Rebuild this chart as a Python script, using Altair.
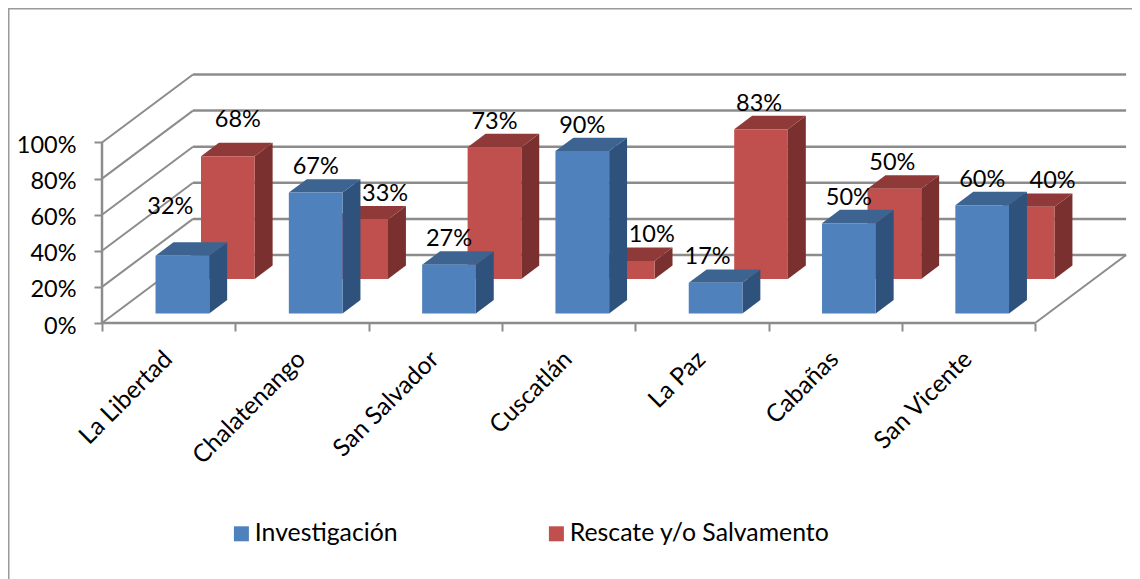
import altair as alt
import pandas as pd

# ---- chart values -------------------------------------------------------
categories = ["La Libertad", "Chalatenango", "San Salvador", "Cuscatlán",
              "La Paz", "Cabañas", "San Vicente"]
investigacion = [32, 67, 27, 90, 17, 50, 60]
rescate = [68, 33, 73, 10, 83, 50, 40]
y_ticks = [0, 20, 40, 60, 80, 100]
series_names = ["Investigación", "Rescate y/o Salvamento"]

# label nudges (px) for data labels that sit away from their bar
inv_nudge_x = [-12, 0, 0, 0, -8, 0, 0]
inv_nudge_y = [23, 0, 0, 0, 0, 0, 0]
res_nudge_x = [10, 24, 0, 24, -2, -2, 25]
res_nudge_y = [11, 0, 0, 0, 0, 0, 0]

# ---- layout -------------------------------------------------------------
W, H = 1124, 571
PX_X = 133.3        # px per category
PX_Y = 1.805        # px per percent
X0, Y0 = 102 - 8, 323 - 8  # origin of the axes inside the plot
DEPTH_X, DEPTH_Y = 91 / PX_X, 68 / PX_Y  # oblique projection of the floor depth
FONT = "Lato"
GRID = "#8c8c8c"
n = len(categories)

x_scale = alt.Scale(domain=[-X0 / PX_X, (W - X0) / PX_X], range=[0, W], nice=False, zero=False)
y_scale = alt.Scale(domain=[(Y0 - H) / PX_Y, Y0 / PX_Y], range=[H, 0], nice=False, zero=False)

# every layer shares the same real axes, pushed into the plot by a negative offset
y_axis = alt.Axis(
    values=y_ticks, labelExpr="datum.value + '%'",
    orient="left", offset=-X0, domain=False, grid=False, title=None,
    tickColor=GRID, tickWidth=2, tickSize=8, labelPadding=18, labelOffset=3,
    labelFont=FONT, labelFontSize=23.5, labelColor="black")
x_axis = alt.Axis(
    values=list(range(n + 1)), orient="bottom", offset=-(H - Y0), domain=False, grid=False,
    labels=False, title=None, tickColor=GRID, tickWidth=2, tickSize=8)


def X(field):
    return alt.X(field, type="quantitative", scale=x_scale, axis=x_axis)


def Y(field):
    return alt.Y(field, type="quantitative", scale=y_scale, axis=y_axis, stack=None)


def proj(u, depth, pct):
    return u + depth * DEPTH_X, pct + depth * DEPTH_Y


BAR_W = 53.7 / PX_X
BAR_D = 0.197
SERIES = [
    dict(vals=investigacion, u0=0.306, d0=0.14, front="#4F81BD", side="#2F527C", top="#3D6491",
         nx=inv_nudge_x, ny=inv_nudge_y),
    dict(vals=rescate, u0=0.301, d0=0.647, front="#C0504D", side="#7A302E", top="#8F3A38",
         nx=res_nudge_x, ny=res_nudge_y),
]

# ---- frame and walls ----------------------------------------------------
thin, thick = [], []


def add_line(rows, name, a, b):
    rows.append({"id": name, "o": 0, "x": a[0], "y": a[1]})
    rows.append({"id": name, "o": 1, "x": b[0], "y": b[1]})


for t in y_ticks:
    add_line(thin, f"side{t}", proj(0, 0, t), proj(0, 1, t))
    add_line(thick, f"back{t}", proj(0, 1, t), proj(n, 1, t))
add_line(thick, "axisY", proj(0, 0, 0), proj(0, 0, 100))
add_line(thin, "floorRight", proj(n, 0, 0), proj(n, 1, 0))
add_line(thick, "axisX", proj(0, 0, 0), proj(n, 0, 0))


def line_layer(rows, color, width):
    return alt.Chart(pd.DataFrame(rows)).mark_line(color=color, strokeWidth=width, clip=False).encode(
        x=X("x"), y=Y("y"), detail="id:N", order="o:Q")


frame_rows = []
add_line(frame_rows, "l", (-X0 / PX_X, (Y0 - H) / PX_Y), (-X0 / PX_X, Y0 / PX_Y))
add_line(frame_rows, "t", (-X0 / PX_X, Y0 / PX_Y), ((W - X0) / PX_X, Y0 / PX_Y))

# ---- bars ---------------------------------------------------------------
layers = [line_layer(frame_rows, "#9a9a9a", 3), line_layer(thin, GRID, 2), line_layer(thick, GRID, 2.5)]
for s, name in zip(SERIES[::-1], series_names[::-1]):
    side, top, front, labels = [], [], [], []
    for i, v in enumerate(s["vals"]):
        u0, u1 = i + s["u0"], i + s["u0"] + BAR_W
        d0, d1 = s["d0"], s["d0"] + BAR_D
        for d in (d0, d1):
            xa, ya = proj(u1, d, 0)
            _, yb = proj(u1, d, v)
            side.append({"k": i, "x": xa, "y": ya, "y2": yb})
        # top face: parallelogram as an area with lower and upper edges
        xf0, yf = proj(u0, d0, v)
        xf1, _ = proj(u1, d0, v)
        xb0, yb2 = proj(u0, d1, v)
        xb1, _ = proj(u1, d1, v)
        top += [
            {"k": i, "x": xf0, "y": yf, "y2": yf},
            {"k": i, "x": xb0, "y": yf, "y2": yb2},
            {"k": i, "x": xf1, "y": yf, "y2": yb2},
            {"k": i, "x": xb1, "y": yb2, "y2": yb2},
        ]
        fx0, fy0 = proj(u0, d0, 0)
        fx1, fy1 = proj(u1, d0, v)
        front.append({"series": name, "x": fx0, "x2": fx1, "y": fy0, "y2": fy1})
        cx = (fx0 + fx1) / 2 + s["nx"][i] / PX_X
        cy = fy1 + (18.5 + s["ny"][i]) / PX_Y
        labels.append({"x": cx, "y": cy, "t": f"{v}%"})
    s.update(labels_rows=labels)
    layers.append(alt.Chart(pd.DataFrame(side)).mark_area(color=s["side"], clip=False).encode(
        x=X("x"), y=Y("y"), y2=alt.Y2("y2"), detail="k:N"))
    layers.append(alt.Chart(pd.DataFrame(top)).mark_area(color=s["top"], clip=False).encode(
        x=X("x"), y=Y("y"), y2=alt.Y2("y2"), detail="k:N"))
    layers.append(alt.Chart(pd.DataFrame(front)).mark_rect(clip=False).encode(
        x=X("x"), x2=alt.X2("x2"), y=Y("y"), y2=alt.Y2("y2"),
        color=alt.Color("series:N",
                        scale=alt.Scale(domain=series_names, range=["#4F81BD", "#C0504D"]),
                        legend=alt.Legend(
                            orient="none", legendX=221, legendY=513, direction="horizontal",
                            columns=2, title=None, symbolType="square", symbolSize=225,
                            symbolStrokeWidth=0, columnPadding=146, labelFont=FONT,
                            labelFontSize=24.8, labelColor="black", labelOffset=1,
                            labelLimit=400))))

for s in SERIES:
    layers.append(alt.Chart(pd.DataFrame(s["labels_rows"])).mark_text(
        font=FONT, fontSize=23.5, color="black", align="center", baseline="alphabetic", clip=False
    ).encode(x=X("x"), y=Y("y"), text="t:N"))

cat_df = pd.DataFrame({"cat": categories, "x": [i + 0.5 for i in range(n)],
                       "y": [-18.2] * n})
layers.append(alt.Chart(cat_df).mark_text(
    font=FONT, fontSize=24.5, color="black", angle=315, align="right", baseline="middle", clip=False
).encode(x=X("x"), y=Y("y"), text="cat:N"))

chart = alt.layer(*layers).properties(
    width=W, height=H, padding=0,
    autosize=alt.AutoSizeParams(type="none"),
    background="white",
).configure_view(stroke=None)

chart.save("out.html", embed_options={"renderer": "svg", "actions": False})
